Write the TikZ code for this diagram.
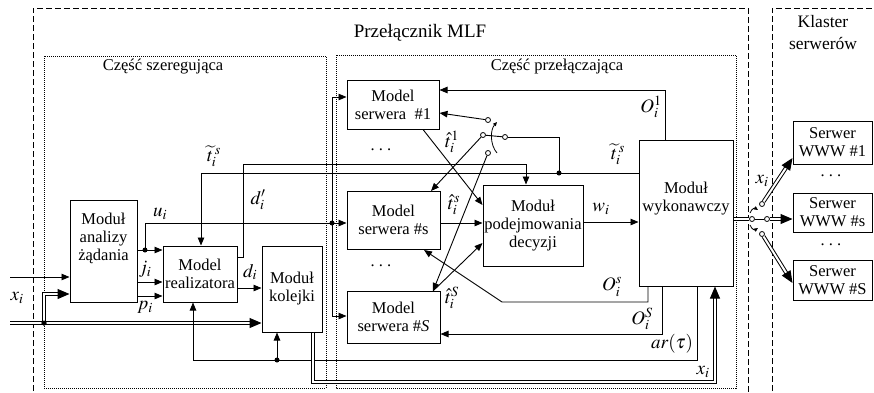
\documentclass[tikz,border=0pt]{standalone}
\usepackage{mathptmx}
\usepackage{fontspec}
\setmainfont{Liberation Serif}
\usetikzlibrary{arrows.meta,calc}
\begin{document}
\begin{tikzpicture}[x=1pt,y=-1pt,
  box/.style={draw, line width=1pt, inner sep=0pt, align=center, font=\fontsize{16.5}{18}\selectfont},
  ln/.style={line width=0.9pt},
  arr/.style={ln, -{Triangle[length=8pt,width=6.5pt]}},
  dbl/.style={double, line width=1pt, double distance=2pt},
  darr/.style={dbl, -{Triangle[length=12pt,width=10pt]}},
  dot/.style={circle, fill, inner sep=0pt, minimum size=5pt},
  odot/.style={circle, draw, fill=white, inner sep=0pt, minimum size=5pt, line width=0.8pt},
  lbl/.style={font=\fontsize{19}{21}\selectfont, inner sep=0pt},
  ttl/.style={font=\fontsize{16.5}{18}\selectfont, inner sep=0pt, align=center},
  frame/.style={line width=0.8pt, dash pattern=on 6pt off 3pt},
  part/.style={line width=0.8pt, dash pattern=on 1pt off 1pt},
  rot/.style={line width=0.8pt, -{Triangle[length=4pt,width=3.5pt]}},
]
\useasboundingbox (0,0) rectangle (874,392);

% frames
\draw[frame] (33,400) -- (33,8) -- (748,8) -- (748,400);
\draw[frame] (772,400) -- (772,8) -- (880,8);
\draw[part] (44,56) rectangle (326,388);
\draw[part] (336,55) rectangle (736,388);

\node[ttl, font=\fontsize{19}{21}\selectfont] (tmlf) at (420,33) {Przełącznik MLF};
\node[ttl] (tsz) at (163,67) {Część szeregująca};
\node[ttl] (tpr) at (557,67) {Część przełączająca};
\node[ttl, font=\fontsize{17.5}{19}\selectfont] (tkl) at (823,33) {Klaster\\[3pt]serwerów};

% boxes
\node[box, minimum width=67pt, minimum height=102pt,
  label={[ttl, yshift=13pt]center:Moduł\\analizy\\żądania}] (ana) at (103.5,251) {};
\node[box, minimum width=74pt, minimum height=56pt] (real) at (200,274) {Model\\realizatora};
\node[box, minimum width=60pt, minimum height=86pt] (kol) at (292,289) {Moduł\\kolejki};
\node[box, minimum width=92pt, minimum height=49pt] (s1) at (393,104.5) {Model\\serwera\ \ \#1};
\node[box, minimum width=93pt, minimum height=58pt] (ss) at (393.5,220) {Model\\serwera \#s};
\node[box, minimum width=93pt, minimum height=52pt] (sS) at (393.5,317) {Model\\serwera \#\textit{S}};
\node[box, minimum width=100pt, minimum height=81pt] (dec) at (533,225.5) {Moduł\\podejmowania\\decyzji};
\node[box, minimum width=94pt, minimum height=146pt,
  label={[ttl, yshift=14pt]center:Moduł\\wykonawczy}] (wyk) at (686,213) {};
\node[box, minimum width=79pt, minimum height=43pt] (w1) at (832.5,142.5) {Serwer\\WWW \#1};
\node[box, minimum width=79pt, minimum height=39pt] (ws) at (832.5,212.5) {Serwer\\WWW \#s};
\node[box, minimum width=79pt, minimum height=40pt] (wS) at (832.5,280) {Serwer\\WWW \#S};

\node[ttl] (dt1) at (381,150) {.\ .\ .};
\node[ttl] (dt2) at (381,266) {.\ .\ .};
\node[ttl] (dt3) at (831,176) {.\ .\ .};
\node[ttl] (dt4) at (831,245) {.\ .\ .};

% inputs
\coordinate (inA) at (10,277);
\coordinate (inB) at (10,323);
\draw[arr] (inA) -- (ana.west |- inA);
\draw[darr] (inB) -- (kol.west |- inB);
\node[dot] (j1) at (44,323) {};
\draw[darr] (j1.center) |- (ana.west |- 0,294);
\node[dot] at (j1) {};

% u_i
\node[dot] (j2) at (145,250) {};
\draw[arr] (ana.east |- j2) -- (real.west |- j2);
\node[dot] (j3) at (332,223) {};
\draw[ln] (j2.center) |- (j3.center);
\draw[arr] (j3.center) -- (ss.west |- j3);
\draw[arr] (j3.center) |- (s1.west |- 0,97);
\draw[arr] (j3.center) |- (sS.west |- 0,316);

% j_i, p_i, d_i
\draw[arr] (ana.east |- 0,282) -- (real.west |- 0,282);
\draw[arr] (ana.east |- 0,296) -- (real.west |- 0,296);
\draw[arr] (real.east |- 0,288) -- (kol.west |- 0,288);

% d'_i
\draw[arr] (real.east |- 0,257) -- (243,257) -- (243,164) -- (526,164) -- (526,0 |- dec.north);

% t tilde
\node[dot] (j4) at (559,173) {};
\draw[arr] (wyk.west |- 0,173) -- (201,173) -- (201,0 |- real.north);

% switch 1
\node[odot] (p1) at (505,137) {};
\node[odot] (c1) at (488,120) {};
\node[odot] (c2) at (483,135) {};
\node[odot] (c3) at (488,153) {};
\draw[ln] (j4.center) |- (p1.east);
\draw[ln] (p1) -- (c2);
\draw[rot] (497,153) .. controls (490,145) and (490,130) .. (497,122);
\coordinate (ssT) at (431,191);
\coordinate (sST) at (433,291);
\draw[arr] (c1) -- (s1.east |- 0,113);
\draw[arr] (c2) -- (ssT);
\draw[arr] (c3) -- (sST);

% t hat
\draw[arr] (s1.south -| 423,0) -- (dec.west |- 0,205);
\draw[arr] (ss.east |- 0,223) -- (dec.west |- 0,223);
\draw[arr] (sST) -- (dec.west |- 0,243);

% w_i
\draw[arr] (dec.east |- 0,222) -- (wyk.west |- 0,222);

% O feedback
\draw[arr] (wyk.north -| 665,0) |- (s1.east |- 0,90);
\coordinate (ssB) at (424,250);
\draw[arr] (wyk.south -| 648,0) -- (648,302) -- (502,302) -- (ssB);
\draw[arr] (wyk.south -| 662,0) |- (sS.east |- 0,334);

% ar(tau)
\node[dot] (j5) at (277,360) {};
\draw[arr] (wyk.south -| 697,0) |- (193,360) -- (193,0 |- real.south);
\draw[arr] (j5.center) -- (kol.south -| j5);

% x_i double path
\draw[darr] (kol.south -| 313,0) -- (313,382) -- (715,382) -- (wyk.south -| 715,0);

% output switch
\node[odot] (p2) at (752,219) {};
\node[odot] (d1) at (762,204) {};
\node[odot] (d2) at (767,219) {};
\node[odot] (d3) at (762,234) {};
\draw[dbl] (wyk.east |- p2) -- (p2);
\draw[ln] (p2) -- (d2);
\draw[darr] (d2) -- (ws.west |- d2);
\draw[darr] (d1) -- (w1.west |- 0,158);
\draw[darr] (d3) -- (wS.west |- 0,283);
\draw[rot] (750,213) .. controls (752,208) and (755,208) .. (758,210);
\draw[rot] (750,225) .. controls (752,230) and (755,230) .. (758,228);

% labels
\node[lbl] (lx1) at (17,298) {$x_i$};
\node[lbl] (lu) at (160,214) {$u_i$};
\node[lbl] (lj) at (145,269) {$j_i$};
\node[lbl] (lp) at (145,307) {$p_i$};
\node[lbl] (ld) at (250,272) {$d_i$};
\node[lbl] (ldp) at (258,200) {$d_i'$};
\node[lbl] (lt1) at (214,156) {$\widetilde{t}_i^{\,s}$};
\node[lbl] (lt2) at (618,154) {$\widetilde{t}_i^{\,s}$};
\node[lbl] (lh1) at (452,142) {$\hat{t}_i^{1}$};
\node[lbl] (lhs) at (454,205) {$\hat{t}_i^{s}$};
\node[lbl] (lhS) at (452,298) {$\hat{t}_i^{S}$};
\node[lbl] (lw) at (601,209) {$w_i$};
\node[lbl] (lO1) at (651,107) {$O_i^1$};
\node[lbl] (lOs) at (612,287) {$O_i^s$};
\node[lbl] (lOS) at (642,319) {$O_i^S$};
\node[lbl] (lar) at (672,344) {$ar(\tau)$};
\node[lbl] (lx2) at (703,372) {$x_i$};
\node[lbl] (lx3) at (762,181) {$x_i$};
\end{tikzpicture}
\end{document}
